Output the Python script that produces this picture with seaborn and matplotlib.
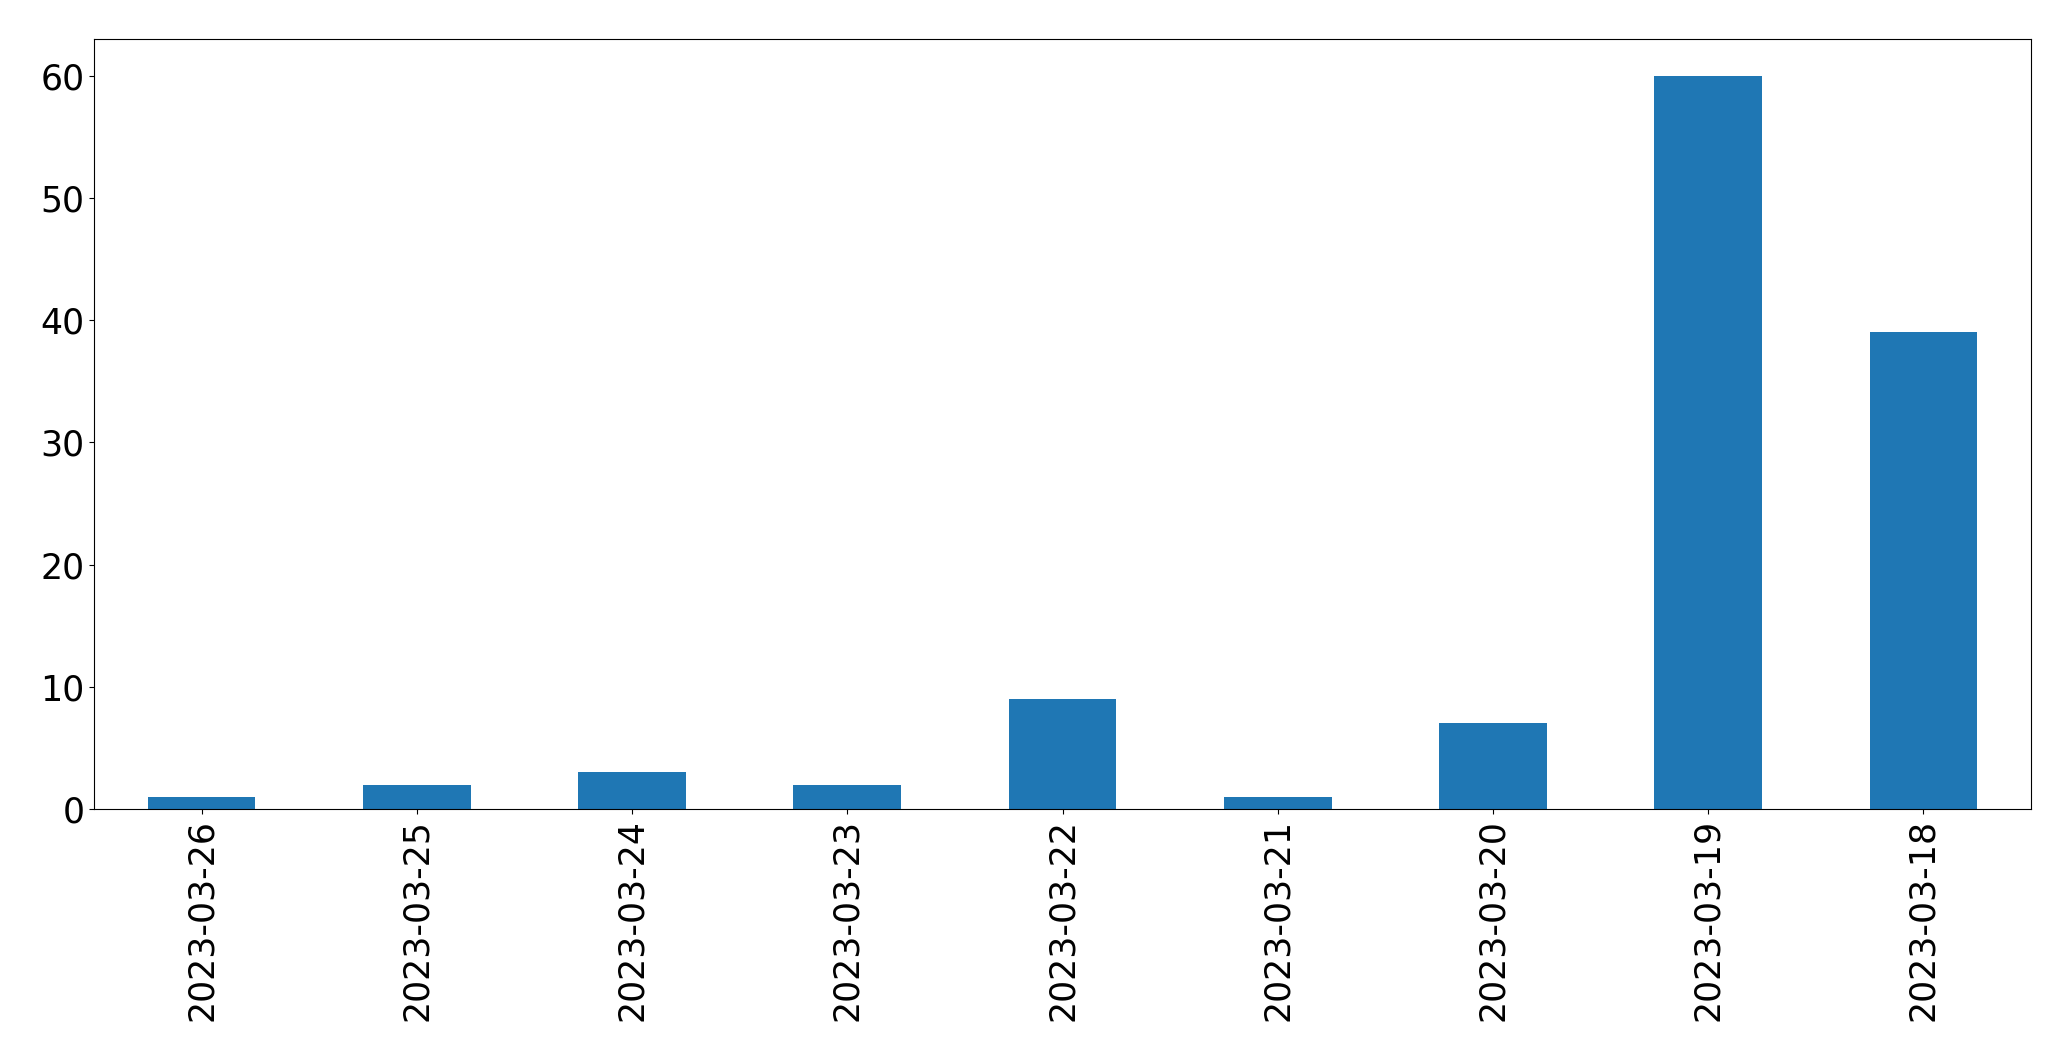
import matplotlib
matplotlib.use("Agg")
import matplotlib.pyplot as plt
import seaborn as sns
import pandas as pd

dates = ["2023-03-26", "2023-03-25", "2023-03-24", "2023-03-23", "2023-03-22",
         "2023-03-21", "2023-03-20", "2023-03-19", "2023-03-18"]
counts = [1, 2, 3, 2, 9, 1, 7, 60, 39]

df = pd.DataFrame({"date": dates, "count": counts})

fig = plt.figure(figsize=(20.71, 10.61), dpi=100)
ax = fig.add_axes([94/2071, 1-809/1061, (2031-94)/2071, (809-39)/1061])
sns.barplot(data=df, x="date", y="count", order=dates, color="#1f77b4",
            saturation=1, width=0.5, ax=ax)
ax.set_xlim(-0.5, len(dates) - 0.5)
ax.set_ylim(0, 63)
ax.set_xlabel("")
ax.set_ylabel("")
ax.tick_params(axis="both", labelsize=25)
ax.tick_params(axis="x", labelrotation=90)
fig.savefig("out.png", dpi=100)
